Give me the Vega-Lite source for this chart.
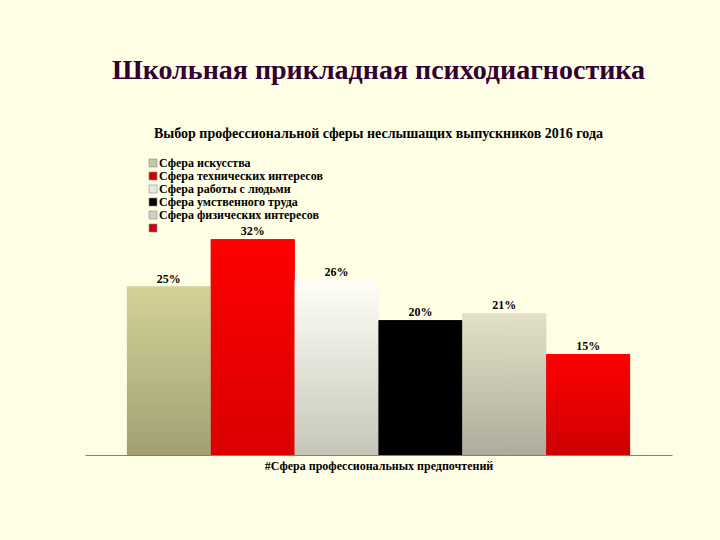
{
  "$schema": "https://vega.github.io/schema/vega-lite/v6.json",
  "width": 587,
  "height": 310,
  "autosize": "none",
  "padding": {"left": 85, "top": 145, "right": 48, "bottom": 85},
  "background": "#FFFFE6",
  "config": {
    "view": {"stroke": null},
    "font": "Liberation Serif"
  },
  "title": {
    "text": "Школьная прикладная психодиагностика",
    "subtitle": "Выбор профессиональной сферы неслышащих выпускников 2016 года",
    "font": "Liberation Serif",
    "fontSize": 28,
    "fontWeight": "bold",
    "color": "#330033",
    "subtitleFont": "Liberation Serif",
    "subtitleFontSize": 14,
    "subtitleFontWeight": "bold",
    "subtitleColor": "#000000",
    "subtitlePadding": 42,
    "offset": 4,
    "anchor": "middle"
  },
  "data": {
    "values": [
      {"cat": "Сфера искусства", "v": 0.25},
      {"cat": "Сфера технических интересов", "v": 0.32},
      {"cat": "Сфера работы с людьми", "v": 0.26},
      {"cat": "Сфера умственного труда", "v": 0.20},
      {"cat": "Сфера физических интересов", "v": 0.21},
      {"cat": " ", "v": 0.15}
    ]
  },
  "encoding": {
    "x": {
      "field": "cat",
      "type": "nominal",
      "sort": null,
      "scale": {"paddingInner": 0, "paddingOuter": 0.5},
      "axis": {
        "labels": false,
        "ticks": false,
        "domainColor": "#808080",
        "domainWidth": 1,
        "title": "#Сфера профессиональных предпочтений",
        "titleFont": "Liberation Serif",
        "titleFontSize": 12,
        "titleFontWeight": "bold",
        "titleColor": "#000000",
        "titlePadding": 5
      }
    },
    "y": {
      "field": "v",
      "type": "quantitative",
      "scale": {"domain": [0, 0.46], "nice": false},
      "axis": null
    }
  },
  "layer": [
    {
      "mark": {"type": "bar"},
      "encoding": {
        "color": {
          "field": "cat",
          "type": "nominal",
          "sort": null,
          "scale": {"range": ["#C8C8A8", "#CC0000", "#E8E8DE", "#000000", "#D2D2C2", "#CC0011"]},
          "legend": {
            "title": null,
            "orient": "none",
            "legendX": 62,
            "legendY": 12,
            "symbolType": "square",
            "symbolSize": 64,
            "symbolStrokeColor": "#8a8a8a",
            "symbolStrokeWidth": 0.6,
            "labelFont": "Liberation Serif",
            "labelFontWeight": "bold",
            "labelFontSize": 12,
            "labelColor": "#000000",
            "labelOffset": 0,
            "labelLimit": 0,
            "rowPadding": 1
          }
        }
      }
    },
    {
      "mark": {"type": "bar"},
      "encoding": {
        "fill": {
          "condition": [
            {"test": "datum.cat === 'Сфера искусства'", "value": {"gradient": "linear", "x1": 0, "y1": 0, "x2": 0, "y2": 1, "stops": [{"offset": 0, "color": "#D4D298"}, {"offset": 1, "color": "#A2A073"}]}},
            {"test": "datum.cat === 'Сфера технических интересов'", "value": {"gradient": "linear", "x1": 0, "y1": 0, "x2": 0, "y2": 1, "stops": [{"offset": 0, "color": "#FF0000"}, {"offset": 1, "color": "#DA0000"}]}},
            {"test": "datum.cat === 'Сфера работы с людьми'", "value": {"gradient": "linear", "x1": 0, "y1": 0, "x2": 0, "y2": 1, "stops": [{"offset": 0, "color": "#FFFFF8"}, {"offset": 1, "color": "#C6C6B8"}]}},
            {"test": "datum.cat === 'Сфера умственного труда'", "value": "#000000"},
            {"test": "datum.cat === 'Сфера физических интересов'", "value": {"gradient": "linear", "x1": 0, "y1": 0, "x2": 0, "y2": 1, "stops": [{"offset": 0, "color": "#E2E1C6"}, {"offset": 1, "color": "#ADAD9C"}]}}
          ],
          "value": {"gradient": "linear", "x1": 0, "y1": 0, "x2": 0, "y2": 1, "stops": [{"offset": 0, "color": "#FF0000"}, {"offset": 1, "color": "#CC0000"}]}
        }
      }
    },
    {
      "mark": {
        "type": "text",
        "baseline": "bottom",
        "dy": -1,
        "font": "Liberation Serif",
        "fontWeight": "bold",
        "fontSize": 12,
        "color": "#000000"
      },
      "encoding": {
        "text": {"field": "v", "type": "quantitative", "format": ".0%"}
      }
    }
  ]
}
